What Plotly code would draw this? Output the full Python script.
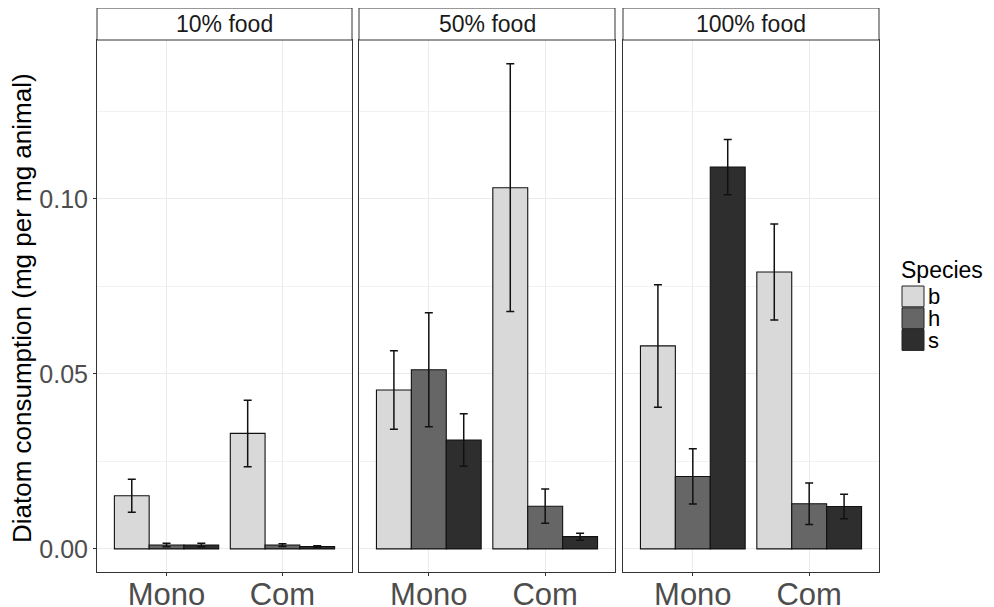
import plotly.graph_objects as go

W, H = 994, 607
OFF = 8  # page body margin offset of the rendered figure

panels = ["10% food", "50% food", "100% food"]
conditions = ["Mono", "Com"]
species = ["b", "h", "s"]
species_colors = ["#d9d9d9", "#666666", "#2e2e2e"]

# mean values per panel [Mono, Com]
mean_b = [[0.0152, 0.0330], [0.0454, 0.1032], [0.0580, 0.0791]]
mean_h = [[0.0011, 0.0011], [0.0512, 0.0122], [0.0207, 0.0129]]
mean_s = [[0.0011, 0.0007], [0.0311, 0.0035], [0.1091, 0.0121]]
# error (+/-)
err_b = [[0.0047, 0.0095], [0.0112, 0.0354], [0.0175, 0.0137]]
err_h = [[0.0005, 0.0004], [0.0163, 0.0049], [0.0079, 0.0059]]
err_s = [[0.0005, 0.0002], [0.0075, 0.0010], [0.0079, 0.0035]]

means = [mean_b, mean_h, mean_s]
errs = [err_b, err_h, err_s]

y_ticks = [0.00, 0.05, 0.10]
y_tick_labels = ["0.00", "0.05", "0.10"]
y_range = [-0.0066, 0.1454]

FONT = "Liberation Sans, Arial, sans-serif"

def px(x):
    return (x - OFF) / W

def py(y):
    return 1 - (y - OFF) / H

panel_x = [(97, 352), (359, 615), (623, 879)]
plot_top, plot_bottom = 40, 572
strip_top = 8

fig = go.Figure()
layout = {}
for p in range(3):
    ax = "" if p == 0 else str(p + 1)
    for si, sp in enumerate(species):
        fig.add_trace(go.Bar(
            x=conditions,
            y=means[si][p],
            name=sp,
            marker=dict(color=species_colors[si], line=dict(color="#111111", width=1.1)),
            error_y=dict(type="data", array=errs[si][p], visible=True,
                         color="#111111", thickness=1.5, width=4),
            xaxis="x" + ax, yaxis="y" + ax,
            offsetgroup=sp, showlegend=False,
        ))
    layout["xaxis" + ax] = dict(
        domain=[px(panel_x[p][0]), px(panel_x[p][1])],
        anchor="y" + ax,
        type="category",
        categoryorder="array", categoryarray=conditions,
        range=[-0.6, 1.6],
        showgrid=True, gridcolor="#ebebeb", gridwidth=1,
        showline=True, mirror=True, linecolor="#333333", linewidth=1,
        ticks="outside", ticklen=3, tickcolor="#333333",
        ticklabelstandoff=-8,
        tickfont=dict(family=FONT, size=31, color="#4d4d4d"),
        zeroline=False, automargin=False,
    )
    layout["yaxis" + ax] = dict(
        domain=[py(plot_bottom), py(plot_top)],
        anchor="x" + ax,
        range=y_range,
        tickmode="array", tickvals=y_ticks, ticktext=y_tick_labels,
        showticklabels=(p == 0),
        ticks="outside" if p == 0 else "", ticklen=3, tickcolor="#333333",
        tickfont=dict(family=FONT, size=25, color="#4d4d4d"),
        showgrid=True, gridcolor="#ebebeb", gridwidth=1,
        minor=dict(tickmode="linear", tick0=0.025, dtick=0.05, showgrid=True,
                   gridcolor="#f2f2f2", gridwidth=1, ticklen=0),
        showline=True, mirror=True, linecolor="#333333", linewidth=1,
        zeroline=False, automargin=False,
    )

shapes = []
annotations = []
for p in range(3):
    x0, x1 = panel_x[p]
    shapes.append(dict(type="rect", xref="paper", yref="paper",
                       x0=px(x0), x1=px(x1), y0=py(plot_top), y1=py(strip_top),
                       fillcolor="white", line=dict(color="#333333", width=1)))
    annotations.append(dict(text=panels[p], xref="paper", yref="paper",
                            x=px((x0 + x1) / 2), y=py((strip_top + plot_top) / 2),
                            xanchor="center", yanchor="middle", showarrow=False,
                            font=dict(family=FONT, size=23, color="#1a1a1a")))

# y axis title
annotations.append(dict(text="Diatom consumption (mg per mg animal)", xref="paper", yref="paper",
                        x=px(22), y=py(308), textangle=-90,
                        xanchor="center", yanchor="middle", showarrow=False,
                        font=dict(family=FONT, size=26, color="black")))

# legend (drawn manually)
annotations.append(dict(text="Species", xref="paper", yref="paper",
                        x=px(899), y=py(270), xanchor="left", yanchor="middle",
                        showarrow=False, font=dict(family=FONT, size=23, color="black")))
key_top = 285.5
key_h = 21.8
for si, sp in enumerate(species):
    y0 = key_top + si * key_h
    shapes.append(dict(type="rect", xref="paper", yref="paper",
                       x0=px(902), x1=px(924), y0=py(y0 + key_h - 0.5), y1=py(y0 + 0.5),
                       fillcolor=species_colors[si], line=dict(color="#222222", width=1)))
    annotations.append(dict(text=sp, xref="paper", yref="paper",
                            x=px(926), y=py(y0 + key_h / 2), xanchor="left", yanchor="middle",
                            showarrow=False, font=dict(family=FONT, size=22, color="black")))

fig.update_layout(
    width=W, height=H,
    margin=dict(l=0, r=0, t=0, b=0),
    paper_bgcolor="white", plot_bgcolor="white",
    barmode="group", bargap=0.1, bargroupgap=0,
    shapes=shapes, annotations=annotations,
    showlegend=False,
    font=dict(family=FONT),
    **layout,
)

fig.write_html("out.html")
